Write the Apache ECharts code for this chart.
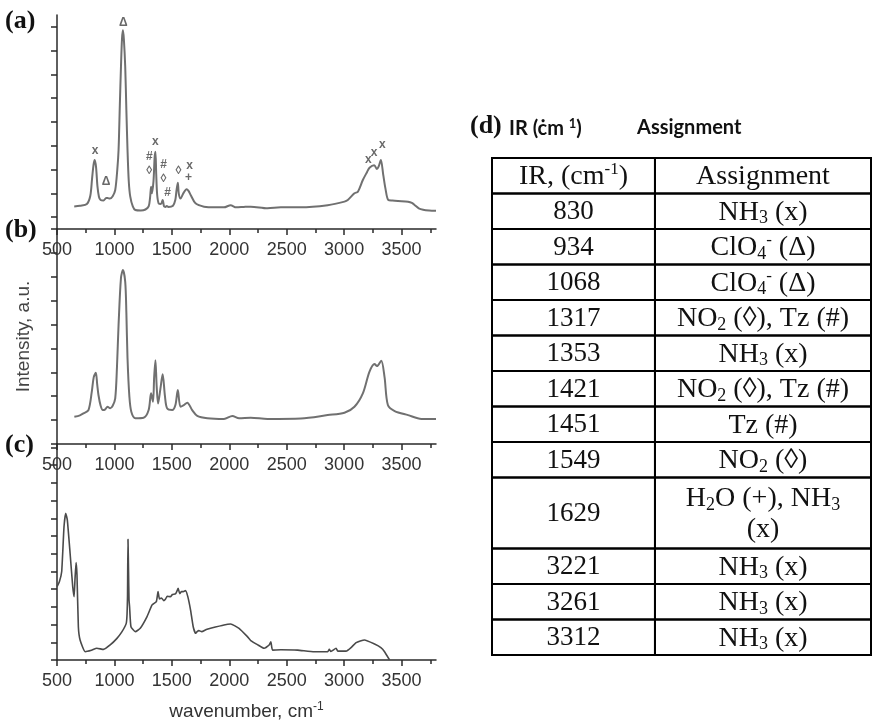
<!DOCTYPE html>
<html><head><meta charset="utf-8">
<script src="https://cdn.jsdelivr.net/npm/echarts@6/dist/echarts.min.js"></script>
<style>html,body{margin:0;padding:0;background:#fff}#c{width:873px;height:724px}</style>
</head><body><div id="c"></div>
<script>
// ---------- DATA ----------
// Panel (a): IR spectrum
const specA_wn = [650,700,760,790,805,818,828,840,852,865,880,905,928,940,960,985,1007,1025,1036,1047,1057,1066,1074,1082,1094,1104,1114,1125,1138,1160,1182,1230,1270,1298,1310,1319,1326,1340,1350,1357,1364,1372,1385,1405,1420,1432,1445,1455,1470,1510,1530,1540,1552,1560,1575,1600,1628,1645,1665,1706,1780,1880,1954,2012,2060,2130,2187,2333,2449,2620,2857,3003,3032,3090,3120,3163,3200,3221,3262,3286,3300,3320,3340,3360,3385,3420,3469,3557,3590,3615,3650,3688,3740,3800];
const specA_int = [0.95,0.98,1.05,1.4,2.1,2.7,2.9,2.6,1.8,1.36,1.22,1.2,1.3,1.3,1.28,1.38,1.64,2.5,3.32,5.2,6.82,8.0,8.36,8.0,6.82,5.0,3.32,2.0,1.36,0.95,0.8,0.78,0.82,0.95,1.3,1.78,1.5,2.0,3.0,3.25,2.3,1.45,1.08,1.05,1.22,0.95,0.93,0.97,0.93,0.98,1.22,1.6,1.95,1.5,1.28,1.5,1.67,1.6,1.42,1.08,0.94,0.91,0.91,1.0,0.91,0.93,0.94,0.87,0.91,0.91,1.0,1.15,1.22,1.5,1.57,2.06,2.4,2.58,2.68,2.52,2.62,2.9,2.3,1.7,1.22,1.2,1.18,1.15,1.1,1.0,0.87,0.81,0.78,0.77];
// Panel (b)
const specB_wn = [651,700,730,774,803,820,838,850,861,880,899,920,940,963,985,1007,1022,1036,1057,1074,1094,1104,1114,1130,1147,1182,1254,1298,1319,1336,1346,1357,1368,1380,1400,1420,1440,1459,1503,1531,1552,1575,1604,1634,1677,1721,1809,1954,2027,2085,2187,2333,2624,2857,3003,3090,3163,3221,3265,3286,3323,3352,3381,3440,3557,3673,3800];
const specB_int = [1.14,1.2,1.28,1.42,2.19,2.8,2.98,2.5,2.05,1.6,1.42,1.45,1.56,1.5,1.6,1.91,3.2,4.98,6.95,7.28,6.79,5.5,3.59,2.0,1.35,1.08,1.1,1.42,2.12,1.77,2.8,3.51,2.4,1.7,2.3,2.92,2.0,1.49,1.42,1.63,2.26,1.56,1.63,1.73,1.42,1.18,1.08,1.05,1.17,1.08,1.1,1.05,1.07,1.21,1.31,1.56,2.12,3.03,3.35,3.26,3.49,2.8,1.63,1.38,1.21,1.05,1.05];
// Panel (c)
const specC_wn = [500,520,541,561,576,590,614,637,649,657,666,674,686,701,745,800,847,905,963,1022,1066,1103,1110,1114,1118,1123,1127,1132,1144,1182,1225,1284,1328,1365,1380,1392,1410,1430,1444,1460,1488,1505,1531,1545,1555,1568,1585,1599,1619,1639,1663,1686,1706,1720,1735,1760,1800,1837,1954,2012,2085,2158,2187,2250,2303,2347,2362,2377,2450,2595,2740,2857,2871,2885,2930,2945,3017,3060,3105,3177,3265,3320,3352,3396];
const specC_int = [4.14,4.4,5.0,7.53,8.29,7.9,6.03,4.14,3.58,4.6,5.5,4.8,1.88,1.13,0.47,0.55,0.66,0.6,0.85,1.22,1.6,2.07,2.6,3.58,6.82,5.0,3.4,3.01,1.88,1.6,1.79,2.45,3.11,3.3,3.86,3.45,3.5,3.35,3.43,3.6,3.58,3.7,3.73,3.9,4.05,3.75,3.86,3.86,3.92,3.58,2.82,1.88,1.51,1.6,1.66,1.6,1.72,1.79,1.98,2.03,1.79,1.32,1.1,0.85,0.66,0.85,1.03,0.56,0.58,0.56,0.47,0.47,0.6,0.48,0.66,0.5,0.5,0.7,0.98,1.13,0.9,0.7,0.47,0.0];
// Peak markers in panel (a)
const annoWn   = [832,928,1077,1357,1304,1304,1427,1427,1462,1558,1654,1645,3210,3262,3332];
const annoInt  = [3.28,1.97,8.66,3.66,3.03,2.44,2.69,2.1,1.51,2.44,2.65,2.14,2.9,3.19,3.53];
const annoText = ['x','Δ','Δ','x','#','◊','#','◊','#','◊','x','+','x','x','x'];
// Axis ticks
const xTickMajor = [500,1000,1500,2000,2500,3000,3500];
const xTickMinor = [750,1250,1750,2250,2750,3250,3750];
const yTicksA = [0.5,1.5,2.5,3.5,4.5,5.5,6.5,7.5,8.5];
const yTicksB = [0,1,2,3,4,5,6,7,8,9];
const yTicksC = [0,1,2,3,4,5,6,7,8,9,10,11,12];
// Table (d)
const tableHeader = ['{n|IR, (cm}{p|-1}{n|)}', '{n|Assignment}'];
const tableIR = ['830','934','1068','1317','1353','1421','1451','1549','1629','3221','3261','3312'];
const tableAssignment = [
  '{n|NH}{b|3}{n| (x)}',
  '{n|ClO}{b|4}{p|-}{n| (Δ)}',
  '{n|ClO}{b|4}{p|-}{n| (Δ)}',
  '{n|NO}{b|2}{n| (◊), Tz (#)}',
  '{n|NH}{b|3}{n| (x)}',
  '{n|NO}{b|2}{n| (◊), Tz (#)}',
  '{n|Tz (#)}',
  '{n|NO}{b|2}{n| (◊)}',
  '{n|H}{b|2}{n|O (+), NH}{b|3}\n{n|(x)}',
  '{n|NH}{b|3}{n| (x)}',
  '{n|NH}{b|3}{n| (x)}',
  '{n|NH}{b|3}{n| (x)}'
];
const tableRowSpan = [1,1,1,1,1,1,1,1,2,1,1,1];

// ---------- BUILD ----------
const AX = '#2a2a2a';
const zip = (a, b) => a.map((v, i) => [v, b[i]]);
const COL_SPLIT = 0.43;

const cells = [];
const cellText = [];
cells.push([0, 0, COL_SPLIT, 1]); cellText.push(tableHeader[0]);
cells.push([COL_SPLIT, 0, 1, 1]); cellText.push(tableHeader[1]);
let r0 = 1;
tableIR.forEach((ir, i) => {
  const r1 = r0 + tableRowSpan[i];
  cells.push([0, r0, COL_SPLIT, r1]); cellText.push('{d|' + ir + '}');
  cells.push([COL_SPLIT, r0, 1, r1]); cellText.push(tableAssignment[i]);
  r0 = r1;
});
const totalRows = r0;

const serif = 'Liberation Serif';
const rich = {
  n: {fontFamily: serif, fontSize: 28, lineHeight: 31, fill: '#111'},
  d: {fontFamily: serif, fontSize: 27, lineHeight: 31, fill: '#111'},
  b: {fontFamily: serif, fontSize: 18, lineHeight: 15, verticalAlign: 'bottom', fill: '#111'},
  p: {fontFamily: serif, fontSize: 17, lineHeight: 15, verticalAlign: 'top', fill: '#111'}
};

function mainX(gi, extra) {
  return Object.assign({
    type: 'value', gridIndex: gi, position: 'bottom', min: 500, max: 3800, interval: 500,
    axisLine: {show: true, onZero: false, lineStyle: {color: AX, width: 1.5}},
    axisTick: {show: true, inside: false, length: 6, customValues: xTickMajor, lineStyle: {color: AX, width: 1.5}},
    axisLabel: {show: true, customValues: xTickMajor, margin: 12, color: '#333', fontFamily: 'Liberation Sans', fontSize: 18,
      formatter: v => String(v)},
    splitLine: {show: false}
  }, extra || {});
}
function minorX(gi) {
  return {
    type: 'value', gridIndex: gi, position: 'bottom', min: 500, max: 3800, interval: 250,
    axisLine: {show: false, onZero: false},
    axisTick: {show: true, inside: false, length: 4, customValues: xTickMinor, lineStyle: {color: AX, width: 1.5}},
    axisLabel: {show: false}, splitLine: {show: false}
  };
}
function yAx(gi, max, ticks, extra) {
  return Object.assign({
    type: 'value', gridIndex: gi, min: 0, max: max, interval: 1,
    axisLine: {show: true, onZero: false, lineStyle: {color: AX, width: 1.5}},
    axisTick: {show: true, inside: false, length: 6, customValues: ticks, lineStyle: {color: AX, width: 1.5}},
    axisLabel: {show: false}, splitLine: {show: false}
  }, extra || {});
}

const lineStyleAB = {color: '#707070', width: 2};
const option = {
  backgroundColor: '#fff',
  animation: false,
  grid: [
    {left: 57, top: 15, width: 379, height: 214, outerBoundsMode: 'none'},
    {left: 57, top: 229, width: 379, height: 215, outerBoundsMode: 'none'},
    {left: 57, top: 444, width: 379, height: 216, outerBoundsMode: 'none'},
    {left: 492, top: 158, width: 379, height: 497, outerBoundsMode: 'none'}
  ],
  xAxis: [
    mainX(0), minorX(0),
    mainX(1), minorX(1),
    mainX(2, {
      name: '{t|wavenumber, cm}{s|-1}', nameLocation: 'middle', nameGap: 41,
      nameTextStyle: {rich: {
        t: {fontFamily: 'Liberation Sans', fontSize: 19, color: '#333', lineHeight: 22},
        s: {fontFamily: 'Liberation Sans', fontSize: 12, color: '#333', lineHeight: 12, verticalAlign: 'top'}
      }}
    }), minorX(2),
    {type: 'value', gridIndex: 3, min: 0, max: 1, show: false}
  ],
  yAxis: [
    yAx(0, 9, yTicksA),
    yAx(1, 9, yTicksB, {
      name: 'Intensity, a.u.', nameLocation: 'middle', nameRotate: 90, nameGap: 24,
      nameTextStyle: {fontFamily: 'Liberation Sans', fontSize: 19, color: '#444'}
    }),
    yAx(2, 12.2, yTicksC),
    {type: 'value', gridIndex: 3, min: 0, max: totalRows, inverse: true, show: false}
  ],
  graphic: [
    {type: 'text', left: 5, top: 8, style: {text: '(a)', font: 'bold 26px "Liberation Serif"', fill: '#111'}},
    {type: 'text', left: 5, top: 217, style: {text: '(b)', font: 'bold 26px "Liberation Serif"', fill: '#111'}},
    {type: 'text', left: 5, top: 432, style: {text: '(c)', font: 'bold 26px "Liberation Serif"', fill: '#111'}},
    {type: 'text', left: 470, top: 113, style: {text: '(d)', font: 'bold 26px "Liberation Serif"', fill: '#111'}},
    {type: 'text', left: 509, top: 117, style: {
      text: '{m|IR (ċm }{s|1}{m|)}',
      rich: {
        m: {fontFamily: 'Lato', fontWeight: 'bold', fontSize: 20, lineHeight: 24, fill: '#111'},
        s: {fontFamily: 'Lato', fontWeight: 'bold', fontSize: 13, lineHeight: 14, verticalAlign: 'top', fill: '#111'}
      }}},
    {type: 'text', left: 637, top: 118, style: {text: 'Assignment', font: 'bold 20px Lato', fill: '#111'}}
  ],
  series: [
    {type: 'line', xAxisIndex: 0, yAxisIndex: 0, data: zip(specA_wn, specA_int), showSymbol: false, smooth: 0.3, lineStyle: lineStyleAB, silent: true},
    {type: 'line', xAxisIndex: 2, yAxisIndex: 1, data: zip(specB_wn, specB_int), showSymbol: false, smooth: 0.3, lineStyle: lineStyleAB, silent: true},
    {type: 'line', xAxisIndex: 4, yAxisIndex: 2, data: zip(specC_wn, specC_int), showSymbol: false, smooth: 0.15, lineStyle: {color: '#4a4a4a', width: 1.6}, silent: true},
    {type: 'scatter', xAxisIndex: 0, yAxisIndex: 0, data: zip(annoWn, annoInt), symbolSize: 2,
      itemStyle: {color: 'rgba(255,255,255,0)'}, silent: true,
      label: {show: true, position: 'inside', formatter: p => annoText[p.dataIndex],
        fontFamily: 'Liberation Sans', fontSize: 12, fontWeight: 'bold', color: '#444'}},
    {type: 'custom', xAxisIndex: 6, yAxisIndex: 3, data: cells, silent: true,
      renderItem: function (params, api) {
        const p0 = api.coord([api.value(0), api.value(1)]);
        const p1 = api.coord([api.value(2), api.value(3)]);
        return {type: 'group', children: [
          {type: 'rect', shape: {x: p0[0], y: p0[1], width: p1[0] - p0[0], height: p1[1] - p0[1]},
            style: {fill: 'none', stroke: '#000', lineWidth: 2}},
          {type: 'text', x: (p0[0] + p1[0]) / 2, y: (p0[1] + p1[1]) / 2 + 1,
            style: {text: cellText[params.dataIndex], rich: rich, align: 'center', verticalAlign: 'middle',
              fontFamily: serif, fontSize: 27, fill: '#111'}}
        ]};
      }}
  ]
};
const chart = echarts.init(document.getElementById('c'), null, {renderer: 'canvas'});
chart.setOption(option);
</script></body></html>
